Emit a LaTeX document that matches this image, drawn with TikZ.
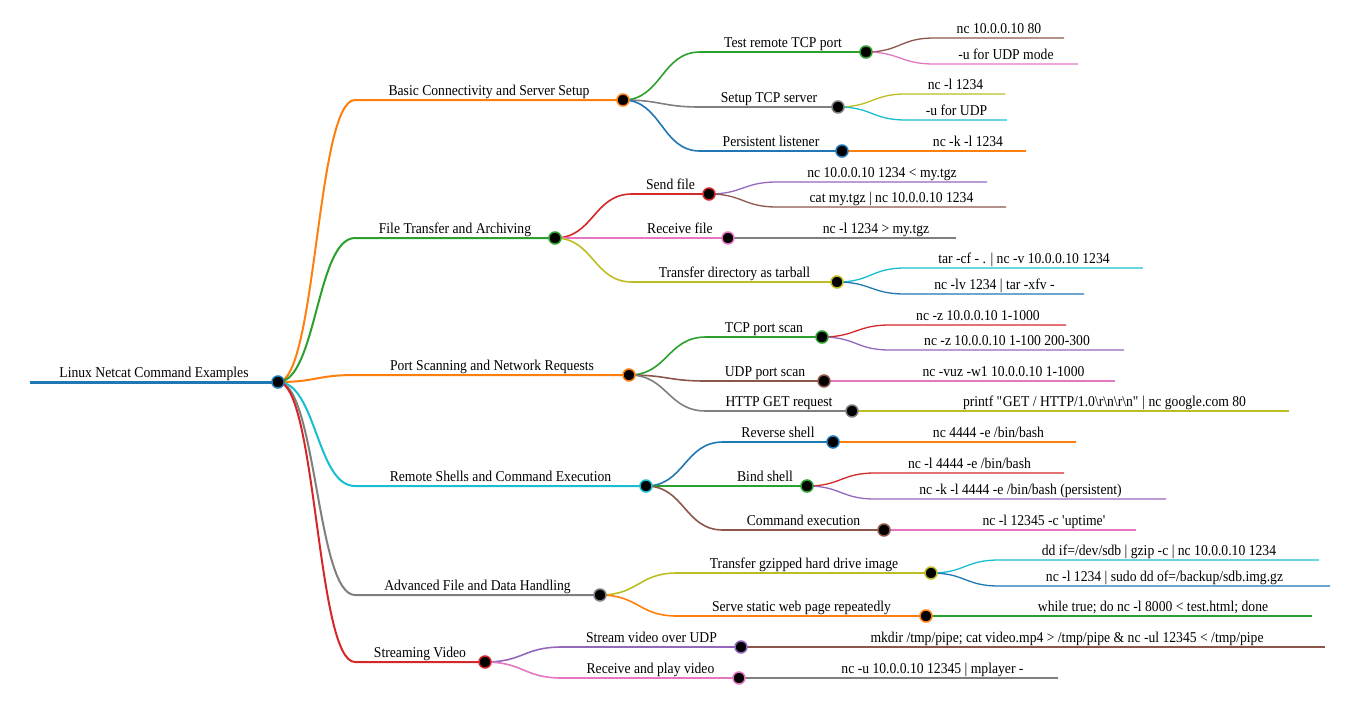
\documentclass[tikz,border=0pt]{standalone}
\usepackage{fontspec}
\setmainfont{Liberation Serif}[FakeStretch=0.91]
\usetikzlibrary{calc}
\definecolor{mmblue}{HTML}{1F77B4}
\definecolor{mmorange}{HTML}{FF7F0E}
\definecolor{mmgreen}{HTML}{2CA02C}
\definecolor{mmred}{HTML}{D62728}
\definecolor{mmpurple}{HTML}{9467BD}
\definecolor{mmbrown}{HTML}{8C564B}
\definecolor{mmpink}{HTML}{E377C2}
\definecolor{mmgray}{HTML}{7F7F7F}
\definecolor{mmolive}{HTML}{BCBD22}
\definecolor{mmcyan}{HTML}{17BECF}
\pgfdeclarelayer{bg}
\pgfsetlayers{bg,main}

\tikzset{
  mmdot/.style={circle, fill=black, inner sep=0pt, minimum size=12pt, line width=1.5pt},
  mmtext/.style={anchor=base, inner sep=0pt, yshift=5pt, font=\fontsize{15}{18}\selectfont},
  lvl1/.style={line width=2pt},
  lvl2/.style={line width=1.6pt},
  lvl3/.style={line width=1.3pt},
}

% parent, name, start x, y, end x, colour, level, text
\newcommand{\mmbranch}[8]{%
  \coordinate (#2-s) at (#3,#4);
  \coordinate (#2-m) at ($(#1.center)!0.5!(#2-s)$);
  \node[mmdot, draw=#6] (#2) at (#5,#4) {};
  \begin{pgfonlayer}{bg}
    \draw[#6, #7] (#1.center) .. controls (#2-m |- #1.center) and (#2-m |- #2-s) .. (#2-s) -- (#2.center);
  \end{pgfonlayer}
  \node[mmtext] (#2-t) at ($(#2-s)!0.5!(#2.center)$) {#8};
}
% parent, name, start x, y, end x, colour, text
\newcommand{\mmleaf}[7]{%
  \coordinate (#2-s) at (#3,#4);
  \coordinate (#2-e) at (#5,#4);
  \coordinate (#2-m) at ($(#1.center)!0.5!(#2-s)$);
  \begin{pgfonlayer}{bg}
    \draw[#6, lvl3] (#1.center) .. controls (#2-m |- #1.center) and (#2-m |- #2-s) .. (#2-s) -- (#2-e);
  \end{pgfonlayer}
  \node[mmtext] (#2-t) at ($(#2-s)!0.5!(#2-e)$) {#7};
}

\begin{document}
\begin{tikzpicture}[x=1pt, y=-1pt]
\useasboundingbox (0,0) rectangle (1358,702);

% root
\coordinate (root-s) at (30,382);
\node[mmdot, draw=mmblue] (root) at (278,382) {};
\begin{pgfonlayer}{bg}
  \draw[mmblue, line width=3pt] (root-s) -- (root.center);
\end{pgfonlayer}
\node[mmtext] (root-t) at ($(root-s)!0.5!(root.center)$) {Linux Netcat Command Examples};

% main topics
\mmbranch{root}{basic}{355}{100}{623}{mmorange}{lvl1}{Basic Connectivity and Server Setup}
\mmbranch{root}{file}{355}{238}{555}{mmgreen}{lvl1}{File Transfer and Archiving}
\mmbranch{root}{scan}{355}{375}{629}{mmorange}{lvl1}{Port Scanning and Network Requests}
\mmbranch{root}{shell}{355}{486}{646}{mmcyan}{lvl1}{Remote Shells and Command Execution}
\mmbranch{root}{adv}{355}{595}{600}{mmgray}{lvl1}{Advanced File and Data Handling}
\mmbranch{root}{video}{355}{662}{485}{mmred}{lvl1}{Streaming Video}

% basic connectivity
\mmbranch{basic}{tcptest}{700}{52}{866}{mmgreen}{lvl2}{Test remote TCP port}
\mmbranch{basic}{tcpserver}{700}{107}{838}{mmgray}{lvl2}{Setup TCP server}
\mmbranch{basic}{listener}{700}{151}{842}{mmblue}{lvl2}{Persistent listener}
\mmleaf{tcptest}{tcptest1}{934}{38}{1064}{mmbrown}{nc 10.0.0.10 80}
\mmleaf{tcptest}{tcptest2}{934}{64}{1078}{mmpink}{-u for UDP mode}
\mmleaf{tcpserver}{tcpserver1}{906}{94}{1005}{mmolive}{nc -l 1234}
\mmleaf{tcpserver}{tcpserver2}{906}{120}{1007}{mmcyan}{-u for UDP}
\mmleaf{listener}{listener1}{910}{151}{1026}{mmorange}{nc -k -l 1234}

% file transfer
\mmbranch{file}{send}{632}{194}{709}{mmred}{lvl2}{Send file}
\mmbranch{file}{recv}{632}{238}{728}{mmpink}{lvl2}{Receive file}
\mmbranch{file}{tardir}{632}{282}{837}{mmolive}{lvl2}{Transfer directory as tarball}
\mmleaf{send}{send1}{777}{182}{987}{mmpurple}{nc 10.0.0.10 1234 < my.tgz}
\mmleaf{send}{send2}{777}{207}{1006}{mmbrown}{cat my.tgz | nc 10.0.0.10 1234}
\mmleaf{recv}{recv1}{796}{238}{956}{mmgray}{nc -l 1234 > my.tgz}
\mmleaf{tardir}{tardir1}{905}{268}{1143}{mmcyan}{tar -cf - . | nc -v 10.0.0.10 1234}
\mmleaf{tardir}{tardir2}{905}{294}{1084}{mmblue}{nc -lv 1234 | tar -xfv -}

% port scanning
\mmbranch{scan}{tcpscan}{706}{337}{822}{mmgreen}{lvl2}{TCP port scan}
\mmbranch{scan}{udpscan}{706}{381}{824}{mmbrown}{lvl2}{UDP port scan}
\mmbranch{scan}{httpget}{706}{411}{852}{mmgray}{lvl2}{HTTP GET request}
\mmleaf{tcpscan}{tcpscan1}{890}{325}{1066}{mmred}{nc -z 10.0.0.10 1-1000}
\mmleaf{tcpscan}{tcpscan2}{890}{350}{1124}{mmpurple}{nc -z 10.0.0.10 1-100 200-300}
\mmleaf{udpscan}{udpscan1}{892}{381}{1115}{mmpink}{nc -vuz -w1 10.0.0.10 1-1000}
\mmleaf{httpget}{httpget1}{920}{411}{1289}{mmolive}{printf \textquotedbl GET / HTTP/1.0\textbackslash r\textbackslash n\textbackslash r\textbackslash n\textquotedbl{} | nc google.com 80}

% remote shells
\mmbranch{shell}{reverse}{723}{442}{833}{mmblue}{lvl2}{Reverse shell}
\mmbranch{shell}{bind}{723}{486}{807}{mmgreen}{lvl2}{Bind shell}
\mmbranch{shell}{cmdexec}{723}{530}{884}{mmbrown}{lvl2}{Command execution}
\mmleaf{reverse}{reverse1}{901}{442}{1076}{mmorange}{nc 4444 -e /bin/bash}
\mmleaf{bind}{bind1}{875}{473}{1064}{mmred}{nc -l 4444 -e /bin/bash}
\mmleaf{bind}{bind2}{875}{499}{1166}{mmpurple}{nc -k -l 4444 -e /bin/bash (persistent)}
\mmleaf{cmdexec}{cmdexec1}{952}{530}{1136}{mmpink}{nc -l 12345 -c \textquotesingle uptime\textquotesingle}

% advanced handling
\mmbranch{adv}{gzipimg}{677}{573}{931}{mmolive}{lvl2}{Transfer gzipped hard drive image}
\mmbranch{adv}{webpage}{677}{616}{926}{mmorange}{lvl2}{Serve static web page repeatedly}
\mmleaf{gzipimg}{gzipimg1}{999}{560}{1319}{mmcyan}{dd if=/dev/sdb | gzip -c | nc 10.0.0.10 1234}
\mmleaf{gzipimg}{gzipimg2}{999}{586}{1330}{mmblue}{nc -l 1234 | sudo dd of=/backup/sdb.img.gz}
\mmleaf{webpage}{webpage1}{994}{616}{1312}{mmgreen}{while true; do nc -l 8000 < test.html; done}

% streaming video
\mmbranch{video}{udpstream}{562}{647}{741}{mmpurple}{lvl2}{Stream video over UDP}
\mmbranch{video}{playback}{562}{678}{739}{mmpink}{lvl2}{Receive and play video}
\mmleaf{udpstream}{udpstream1}{809}{647}{1325}{mmbrown}{mkdir /tmp/pipe; cat video.mp4 > /tmp/pipe \& nc -ul 12345 < /tmp/pipe}
\mmleaf{playback}{playback1}{807}{678}{1058}{mmgray}{nc -u 10.0.0.10 12345 | mplayer -}
\end{tikzpicture}
\end{document}
